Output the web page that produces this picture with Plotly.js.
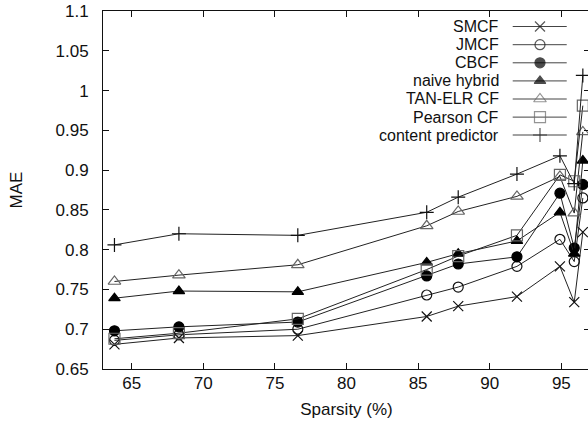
<!DOCTYPE html>
<html>
<head>
<meta charset="utf-8">
<script src="https://cdn.plot.ly/plotly-3.0.1.min.js"></script>
<style>
html, body { margin: 0; padding: 0; overflow: hidden; background: #fff; }
#chart { width: 590px; height: 423px; }
</style>
</head>
<body>
<div id="chart"></div>
<script>
// ---- data ----
const sparsity = [63.8, 68.3, 76.6, 85.6, 87.8, 91.9, 94.9, 95.9, 96.5];
const smcf     = [0.681, 0.689, 0.692, 0.716, 0.729, 0.741, 0.779, 0.734, 0.822];
const jmcf     = [0.686, 0.693, 0.700, 0.743, 0.753, 0.779, 0.813, 0.785, 0.865];
const cbcf     = [0.698, 0.703, 0.709, 0.767, 0.782, 0.791, 0.871, 0.802, 0.882];
const naiveHybrid = [0.739, 0.748, 0.747, 0.784, 0.795, 0.811, 0.847, 0.795, 0.912];
const tanElr   = [0.760, 0.768, 0.781, 0.830, 0.848, 0.867, 0.892, 0.846, 0.948];
const pearson  = [0.688, 0.695, 0.713, 0.775, 0.792, 0.818, 0.894, 0.886, 0.981];
const content  = [0.806, 0.820, 0.818, 0.847, 0.866, 0.895, 0.918, 0.883, 1.019];

const seriesNames = ["SMCF", "JMCF", "CBCF", "naive hybrid", "TAN-ELR CF", "Pearson CF", "content predictor"];
const xTickVals = [65, 70, 75, 80, 85, 90, 95];
const xTickText = ["65", "70", "75", "80", "85", "90", "95"];
const yTickVals = [0.65, 0.7, 0.75, 0.8, 0.85, 0.9, 0.95, 1.0, 1.05, 1.1];
const yTickText = ["0.65", "0.7", "0.75", "0.8", "0.85", "0.9", "0.95", "1", "1.05", "1.1"];

// ---- styles ----
const seriesValues = [smcf, jmcf, cbcf, naiveHybrid, tanElr, pearson, content];
const styles = [
  {symbol: "x-thin-open", size: 10, color: "#111"},
  {symbol: "circle-open", size: 10, color: "#111"},
  {symbol: "circle", size: 10, color: "#000"},
  {symbol: "triangle-up", size: 10, color: "#000"},
  {symbol: "triangle-up-open", size: 11, color: "#666"},
  {symbol: "square-open", size: 11, color: "#666"},
  {symbol: "cross-thin-open", size: 10, color: "#111"}
];

const traces = [];
seriesValues.forEach((vals, i) => {
  const st = styles[i];
  traces.push({
    type: "scatter", mode: "lines+markers",
    x: sparsity, y: vals, name: seriesNames[i], showlegend: false,
    line: {color: "#222", width: 1},
    marker: {symbol: st.symbol, size: st.size, color: st.color,
             line: {color: st.color, width: 1.2}},
    cliponaxis: true
  });
});

// custom legend (text on the left, sample on the right), on an overlay axis in [0,1]
const legRowY = [0.9567, 0.9059, 0.8553, 0.8047, 0.7542, 0.7036, 0.6536];
const legX0 = 0.8413, legXm = 0.8973, legX1 = 0.9522, legTextX = 0.8166;
const annotations = [];
seriesNames.forEach((nm, i) => {
  const st = styles[i];
  traces.push({
    type: "scatter", mode: "lines+markers", xaxis: "x2", yaxis: "y2",
    x: [legX0, legXm, legX1], y: [legRowY[i], legRowY[i], legRowY[i]],
    showlegend: false, hoverinfo: "skip",
    line: {color: "#444", width: 1},
    marker: {symbol: st.symbol, size: [0, st.size, 0], color: st.color,
             line: {color: st.color, width: 1.2}}
  });
  annotations.push({
    xref: "paper", yref: "paper", x: legTextX, y: legRowY[i],
    xanchor: "right", yanchor: "middle", showarrow: false,
    text: nm, font: {family: "Liberation Sans, Arial, sans-serif", size: 16, color: "#111"}
  });
});

const font = {family: "Liberation Sans, Arial, sans-serif", size: 17, color: "#111"};
const layout = {
  width: 590, height: 423,
  margin: {l: 103, r: 0, t: 11, b: 54, pad: 0},
  paper_bgcolor: "#fff", plot_bgcolor: "#fff",
  font: font,
  showlegend: false,
  xaxis: {
    range: [63, 97], tickmode: "array", tickvals: xTickVals, ticktext: xTickText,
    ticks: "inside", ticklen: 6, tickwidth: 1, tickcolor: "#111",
    showline: true, linecolor: "#111", linewidth: 1, mirror: "ticks",
    showgrid: false, zeroline: false, ticklabelstandoff: -1,
    title: {text: "Sparsity (%)", font: font, standoff: 10}
  },
  yaxis: {
    range: [0.65, 1.1], tickmode: "array", tickvals: yTickVals, ticktext: yTickText,
    ticks: "inside", ticklen: 6, tickwidth: 1, tickcolor: "#111",
    showline: true, linecolor: "#111", linewidth: 1, mirror: "ticks",
    showgrid: false, zeroline: false, ticklabelstandoff: 10,
    title: {text: "MAE", font: font, standoff: 28}
  },
  xaxis2: {overlaying: "x", range: [0, 1], visible: false, fixedrange: true},
  yaxis2: {overlaying: "y", range: [0, 1], visible: false, fixedrange: true},
  annotations: annotations
};

Plotly.newPlot("chart", traces, layout, {displayModeBar: false, staticPlot: true, responsive: false});
</script>
</body>
</html>
